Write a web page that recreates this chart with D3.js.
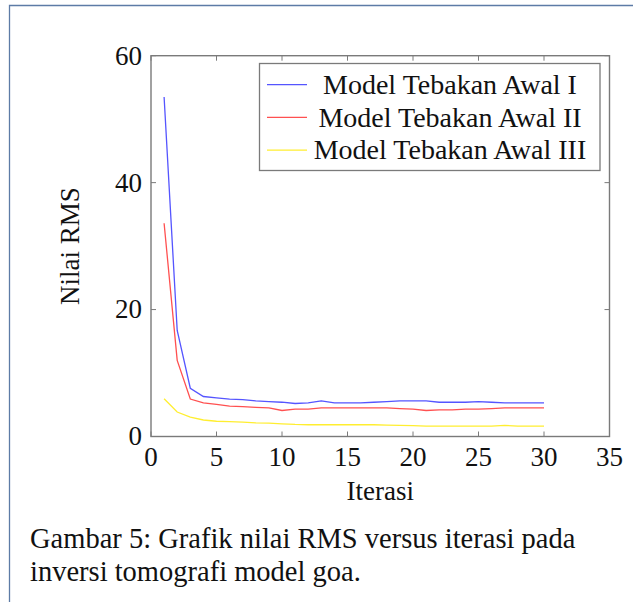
<!DOCTYPE html>
<html lang="en">
<head>
  <meta charset="UTF-8">
  <script src="https://d3js.org/d3.v7.min.js"></script>
  <title></title>
  <style>
    body { margin: 0; background: #fff; }
    text { font-family: 'Liberation Serif', 'Times New Roman', serif; fill: #111; }
  </style>
</head>
<body>
  <script>
    var iterasi = [1, 2, 3, 4, 5, 6, 7, 8, 9, 10, 11, 12, 13, 14, 15,
      16, 17, 18, 19, 20, 21, 22, 23, 24, 25, 26, 27, 28, 29, 30];
    var awal1 = [53.5, 16.7, 7.6, 6.3, 6.1, 5.9, 5.8, 5.6, 5.5, 5.4, 5.2, 5.3, 5.6, 5.3, 5.3,
      5.3, 5.4, 5.5, 5.6, 5.6, 5.6, 5.4, 5.4, 5.4, 5.5, 5.4, 5.3, 5.3, 5.3, 5.3];
    var awal2 = [33.6, 12.0, 5.9, 5.3, 5.05, 4.8, 4.7, 4.6, 4.5, 4.1, 4.3, 4.3, 4.5, 4.5, 4.5,
      4.5, 4.5, 4.5, 4.4, 4.3, 4.1, 4.2, 4.2, 4.3, 4.3, 4.4, 4.5, 4.5, 4.5, 4.5];
    var awal3 = [5.95, 3.85, 3.05, 2.6, 2.4, 2.35, 2.25, 2.15, 2.1, 2.0, 1.9, 1.85, 1.85, 1.85, 1.85,
      1.85, 1.85, 1.8, 1.75, 1.7, 1.65, 1.65, 1.65, 1.65, 1.65, 1.65, 1.75, 1.65, 1.65, 1.65];
    var seriesNames = ['Model Tebakan Awal I', 'Model Tebakan Awal II', 'Model Tebakan Awal III'];
    var xTicks = [0, 5, 10, 15, 20, 25, 30, 35];
    var yTicks = [0, 20, 40, 60];
    var caption = ['Gambar 5: Grafik nilai RMS versus iterasi pada',
      'inversi tomografi model goa.'];

    var W = 633, H = 602;
    var pLeft = 151, pRight = 609.5, pTop = 55.7, pBottom = 436.5;
    var fs = 27;

    var svg = d3.select('body').append('svg')
      .attr('width', W).attr('height', H);

    // page frame (only top and left edges show)
    svg.append('path')
      .attr('d', 'M9.5,' + H + 'V5.5H' + W)
      .attr('fill', 'none').attr('stroke', '#5d7ba6').attr('stroke-width', 1.3);

    var x = d3.scaleLinear().domain([0, 35]).range([pLeft, pRight]);
    var y = d3.scaleLinear().domain([0, 60]).range([pBottom, pTop]);

    var axisCol = '#7a7a7a';
    var tl = 5;

    // ticks inside, on all four sides
    var g = svg.append('g');
    xTicks.forEach(function(t) {
      g.append('line').attr('x1', x(t)).attr('x2', x(t)).attr('y1', pBottom).attr('y2', pBottom - tl)
        .attr('stroke', axisCol);
      g.append('line').attr('x1', x(t)).attr('x2', x(t)).attr('y1', pTop).attr('y2', pTop + tl)
        .attr('stroke', axisCol);
      g.append('text').attr('x', x(t)).attr('y', pBottom + 29)
        .attr('text-anchor', 'middle').attr('font-size', fs).text(t);
    });
    yTicks.forEach(function(t) {
      g.append('line').attr('x1', pLeft).attr('x2', pLeft + tl).attr('y1', y(t)).attr('y2', y(t))
        .attr('stroke', axisCol);
      g.append('line').attr('x1', pRight).attr('x2', pRight - tl).attr('y1', y(t)).attr('y2', y(t))
        .attr('stroke', axisCol);
      g.append('text').attr('x', pLeft - 9).attr('y', y(t)).attr('dy', '0.33em')
        .attr('text-anchor', 'end').attr('font-size', fs).text(t);
    });

    var line = d3.line()
      .x(function(d) { return x(d[0]); })
      .y(function(d) { return y(d[1]); });

    var colors = ['#5555ff', '#ff5050', '#ffee30'];
    [awal1, awal2, awal3].forEach(function(vals, i) {
      svg.append('path')
        .datum(iterasi.map(function(it, k) { return [it, vals[k]]; }))
        .attr('d', line)
        .attr('fill', 'none')
        .attr('stroke', colors[i])
        .attr('stroke-width', 1.3);
    });

    // plot frame
    svg.append('rect')
      .attr('x', pLeft).attr('y', pTop)
      .attr('width', pRight - pLeft).attr('height', pBottom - pTop)
      .attr('fill', 'none').attr('stroke', axisCol).attr('stroke-width', 1.4);

    // legend
    var lg = svg.append('g');
    lg.append('rect')
      .attr('x', 259.5).attr('y', 63.5).attr('width', 340.5).attr('height', 107)
      .attr('fill', '#fff').attr('stroke', axisCol).attr('stroke-width', 1.3);
    seriesNames.forEach(function(name, i) {
      var ry = 84.7 + i * 32.7;
      lg.append('line').attr('x1', 267).attr('x2', 307).attr('y1', ry).attr('y2', ry)
        .attr('stroke', colors[i]).attr('stroke-width', 1.3);
      lg.append('text').attr('x', 450).attr('y', ry).attr('dy', '0.33em')
        .attr('text-anchor', 'middle').attr('font-size', 28).text(name);
    });

    // axis titles
    svg.append('text')
      .attr('x', (pLeft + pRight) / 2).attr('y', 500)
      .attr('text-anchor', 'middle').attr('font-size', fs).text('Iterasi');
    svg.append('text')
      .attr('transform', 'translate(79,' + (pTop + pBottom) / 2 + ') rotate(-90)')
      .attr('text-anchor', 'middle').attr('font-size', fs).text('Nilai RMS');

    // caption
    caption.forEach(function(c, i) {
      svg.append('text')
        .attr('x', 30).attr('y', 548 + i * 33)
        .attr('font-size', 28.5).text(c);
    });
  </script>
</body>
</html>
